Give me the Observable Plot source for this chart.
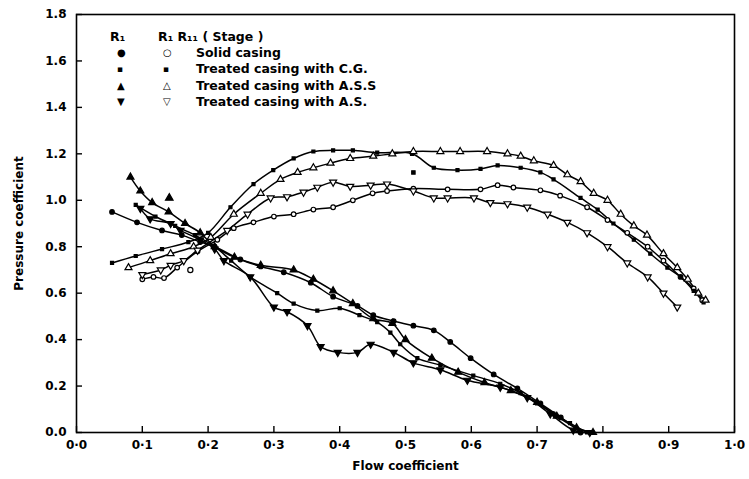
<!DOCTYPE html>
<html><head><meta charset="utf-8">
<script src="https://cdn.jsdelivr.net/npm/d3@7"></script>
<script src="https://cdn.jsdelivr.net/npm/@observablehq/plot@0.6"></script>
<style>
body{margin:0;background:#fff;}
#wrap{position:relative;width:749px;height:479px;font-family:"DejaVu Sans",sans-serif;font-weight:bold;color:#000;}
#legend{position:absolute;left:0;top:0;font-size:12.5px;}
#legend div{position:absolute;white-space:nowrap;line-height:14px;}
</style></head><body><div id="wrap"><div id="legend"></div></div>
<script>
// ---- axis ticks ----
const xTicks = [0,0.1,0.2,0.3,0.4,0.5,0.6,0.7,0.8,0.9,1.0];
const xTickLabels = ["0·0","0·1","0·2","0·3","0·4","0·5","0·6","0·7","0·8","0·9","1·0"];
const yTicks = [0,0.2,0.4,0.6,0.8,1.0,1.2,1.4,1.6,1.8];
const yTickLabels = ["0.0","0.2","0.4","0.6","0.8","1.0","1.2","1.4","1.6","1.8"];
const xTitle = "Flow coefficient";
const yTitle = "Pressure coefficient";

// ---- legend ----
const legendHead1 = "R₁";
const legendHead2 = "R₁ R₁₁ ( Stage )";
const casings = ["Solid casing","Treated casing with C.G.","Treated casing with A.S.S","Treated casing with A.S."];
const glyphR1 = ["●","▪","▲","▼"];
const glyphStage = ["○","▪","△","▽"];

// ---- R1 (rotor alone) curves: [flow coefficient, pressure coefficient] ----
const r1Solid = [[.054,.95],[.092,.905],[.13,.87],[.16,.85],[.188,.82],[.21,.80],[.249,.745],[.28,.715],[.315,.69],[.356,.645],[.39,.585],[.427,.545],[.451,.505],[.482,.48],[.512,.46],[.543,.44],[.568,.39],[.599,.32],[.634,.25],[.67,.19],[.705,.125],[.736,.065],[.766,0.0]];
const r1CG = [[.09,.98],[.12,.93],[.15,.89],[.18,.85],[.21,.80],[.235,.74],[.264,.67],[.305,.60],[.33,.555],[.366,.525],[.40,.535],[.43,.505],[.457,.475],[.477,.43],[.492,.38],[.518,.32],[.553,.29],[.603,.245],[.644,.21],[.675,.17],[.70,.125],[.725,.08],[.75,.04],[.776,0.0]];
const r1ASS = [[.082,1.10],[.097,1.04],[.115,.99],[.14,.95],[.165,.90],[.188,.86],[.21,.80],[.24,.755],[.28,.72],[.33,.70],[.36,.66],[.39,.61],[.42,.555],[.451,.49],[.48,.47],[.50,.40],[.54,.32],[.58,.26],[.62,.215],[.66,.18],[.70,.13],[.73,.07],[.76,.02],[.785,0.0]];
const r1AS = [[.097,.965],[.112,.92],[.143,.90],[.158,.87],[.188,.83],[.21,.79],[.224,.74],[.264,.67],[.30,.54],[.32,.52],[.351,.46],[.371,.37],[.397,.345],[.427,.345],[.447,.38],[.482,.345],[.512,.30],[.553,.27],[.594,.225],[.644,.195],[.685,.15],[.72,.08],[.755,.01],[.78,0.0]];

// ---- R1 R11 (stage) curves ----
const stSolid = [[.10,.66],[.117,.67],[.133,.665],[.153,.71],[.184,.78],[.214,.83],[.239,.88],[.269,.905],[.30,.93],[.33,.94],[.36,.96],[.39,.97],[.42,1.0],[.45,1.03],[.472,1.04],[.512,1.05],[.564,1.047],[.614,1.047],[.64,1.065],[.664,1.055],[.705,1.043],[.735,1.02],[.776,.97],[.807,.915],[.837,.86],[.868,.80],[.892,.74],[.918,.67],[.938,.62],[.951,.57]];
const stCG = [[.054,.73],[.09,.76],[.13,.79],[.17,.82],[.2,.86],[.234,.97],[.269,1.07],[.299,1.13],[.33,1.18],[.36,1.21],[.39,1.215],[.42,1.215],[.457,1.205],[.51,1.20],[.543,1.14],[.579,1.13],[.614,1.135],[.64,1.15],[.675,1.14],[.705,1.12],[.725,1.09],[.766,1.01],[.792,.96],[.816,.90],[.847,.83],[.872,.77],[.898,.71],[.918,.67],[.938,.61],[.953,.56]];
const stASS = [[.079,.71],[.112,.74],[.143,.77],[.178,.80],[.204,.84],[.239,.94],[.28,1.03],[.31,1.09],[.336,1.12],[.36,1.14],[.386,1.16],[.416,1.18],[.451,1.19],[.48,1.20],[.512,1.21],[.553,1.21],[.583,1.21],[.624,1.21],[.655,1.20],[.675,1.19],[.695,1.17],[.725,1.15],[.746,1.11],[.766,1.08],[.786,1.03],[.807,1.00],[.827,.94],[.847,.89],[.867,.85],[.892,.77],[.913,.71],[.929,.66],[.945,.60],[.956,.57]];
const stAS = [[.10,.68],[.128,.70],[.143,.72],[.163,.74],[.184,.785],[.229,.87],[.26,.94],[.295,1.01],[.32,1.015],[.345,1.035],[.366,1.056],[.39,1.078],[.416,1.06],[.447,1.065],[.472,1.07],[.512,1.04],[.543,1.01],[.564,1.01],[.604,1.01],[.629,.99],[.655,.985],[.685,.97],[.716,.94],[.746,.905],[.776,.86],[.807,.80],[.837,.73],[.868,.67],[.892,.60],[.913,.54]];

// stray single points (no line)
const strayASS_R1 = [[.141,1.01]];
const strayCG_St = [[.512,1.12]];
const straySolid_St = [[.173,.70]];

// ---- build table ----
const series = [
  {key:"r1Solid", pts:r1Solid, sym:"circle", open:false, rot:0, r:2.3},
  {key:"r1CG", pts:r1CG, sym:"square", open:false, rot:0, r:1.7},
  {key:"r1ASS", pts:r1ASS, sym:"triangle", open:false, rot:0, r:2.6},
  {key:"r1AS", pts:r1AS, sym:"triangle", open:false, rot:180, r:2.6},
  {key:"stSolid", pts:stSolid, sym:"circle", open:true, rot:0, r:2.3},
  {key:"stCG", pts:stCG, sym:"square", open:false, rot:0, r:1.7},
  {key:"stASS", pts:stASS, sym:"triangle", open:true, rot:0, r:2.6},
  {key:"stAS", pts:stAS, sym:"triangle", open:true, rot:180, r:2.6}
];
const strays = [
  {pts:strayASS_R1, sym:"triangle", open:false, rot:0, r:2.8},
  {pts:strayCG_St, sym:"square", open:false, rot:0, r:1.9},
  {pts:straySolid_St, sym:"circle", open:true, rot:0, r:2.6}
];
const lineRows = series.flatMap(s => s.pts.map(([phi,p]) => ({phi, p, key:s.key})));

const marks = [
  Plot.frame({stroke:"black", strokeWidth:1.6}),
  Plot.axisX({ticks:xTicks, tickSize:-6, tickFormat:()=>"", label:null, strokeWidth:1.4}),
  Plot.axisY({ticks:yTicks, tickSize:-6, tickFormat:()=>"", label:null, strokeWidth:1.4}),
  Plot.axisX({ticks:xTicks, tickSize:0, tickPadding:8, tickFormat:d=>xTickLabels[xTicks.indexOf(d)],
    label:xTitle, labelAnchor:"center", labelArrow:"none", labelOffset:37}),
  Plot.axisY({ticks:yTicks, tickSize:0, tickPadding:10, tickFormat:d=>yTickLabels[yTicks.indexOf(d)],
    label:yTitle, labelAnchor:"center", labelArrow:"none", labelOffset:62}),
  Plot.line(lineRows, {x:"phi", y:"p", z:"key", curve:"catmull-rom", stroke:"black", strokeWidth:1.5})
];
for (const s of [...series, ...strays]) {
  marks.push(Plot.dot(s.pts, {x:d=>d[0], y:d=>d[1], symbol:s.sym, r:s.r, rotate:s.rot,
    fill:s.open ? "white" : "black", stroke:"black", strokeWidth:1.2}));
}

const chart = Plot.plot({
  width:749, height:479,
  marginLeft:76, marginRight:15, marginTop:14, marginBottom:47,
  x:{domain:[0,1]}, y:{domain:[0,1.8]},
  style:{fontFamily:"DejaVu Sans, sans-serif", fontWeight:"bold", fontSize:"12px", background:"white", color:"black"},
  marks
});
document.getElementById("wrap").appendChild(chart);

// ---- legend overlay ----
const lg = document.getElementById("legend");
function put(txt, x, y, extra) {
  const d = document.createElement("div");
  d.textContent = txt; d.style.left = x + "px"; d.style.top = y + "px";
  if (extra) Object.assign(d.style, extra);
  lg.appendChild(d);
}
put(legendHead1, 110, 30);
put(legendHead2, 158, 30);
casings.forEach((c, i) => {
  const y = 46 + i * 16.4;
  put(glyphR1[i], 117, y, {fontSize: i === 1 ? "9px" : "10px", lineHeight:"14px"});
  put(glyphStage[i], 163, y, {fontSize: i === 1 ? "9px" : "10px", lineHeight:"14px"});
  put(c, 196, y);
});
</script></body></html>
